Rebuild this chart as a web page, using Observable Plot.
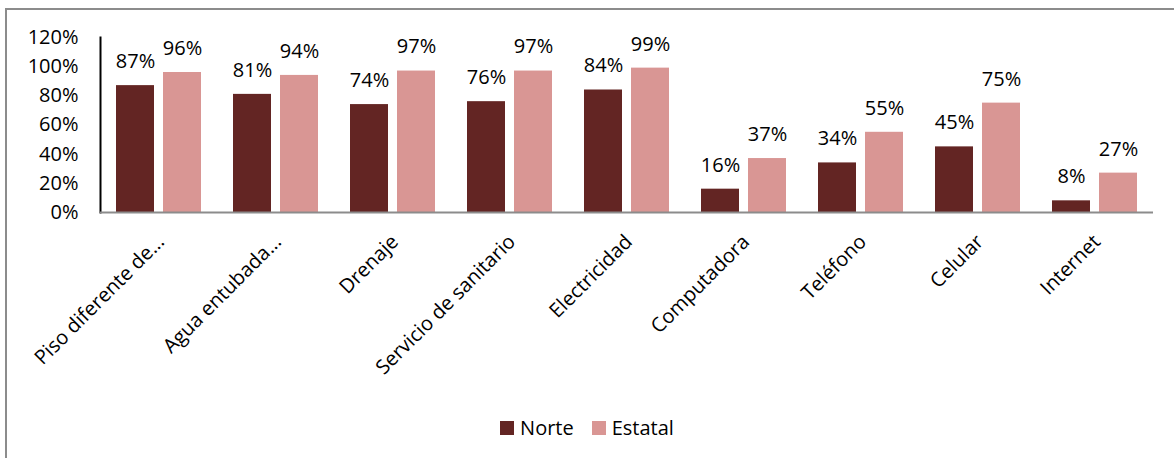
<!DOCTYPE html>
<html><head><meta charset="utf-8">
<script src="https://cdn.jsdelivr.net/npm/d3@7"></script>
<script src="https://cdn.jsdelivr.net/npm/@observablehq/plot@0.6"></script>
<style>
body{margin:0;background:#fff;font-family:"Open Sans",sans-serif;}
#wrap{position:relative;width:1174px;height:458px;overflow:hidden;background:#fff;}
#frame{position:absolute;left:5px;top:8px;width:1200px;height:500px;border-top:2px solid #8c8c8c;border-left:2px solid #8c8c8c;}
#chart{position:absolute;left:0;top:0;}
#chart g[aria-label="frame"]{stroke:#8c8c8c;stroke-width:2px;}
#legend{position:absolute;top:414px;left:0;width:1174px;display:flex;justify-content:center;align-items:center;font-size:20px;color:#000;}
#legend .item{display:flex;align-items:center;margin:0 9px;}
#legend .sw{width:14px;height:14px;margin-right:6px;}
</style></head>
<body>
<div id="wrap"><div id="frame"></div><div id="chart"></div><div id="legend"></div></div>
<script>
const categories = ["Piso diferente de...", "Agua entubada...", "Drenaje", "Servicio de sanitario", "Electricidad", "Computadora", "Teléfono", "Celular", "Internet"];
const series = ["Norte", "Estatal"];
const norte = [87, 81, 74, 76, 84, 16, 34, 45, 8];
const estatal = [96, 94, 97, 97, 99, 37, 55, 75, 27];
const colors = ["#632523", "#D99694"];
const yTicks = [0, 0.2, 0.4, 0.6, 0.8, 1.0, 1.2];

const data = categories.flatMap((c, i) => [
  {cat: c, serie: series[0], v: norte[i] / 100},
  {cat: c, serie: series[1], v: estatal[i] / 100}
]);
const pct = d3.format(".0%");

const chart = Plot.plot({
  width: 1174,
  height: 410,
  marginLeft: 98,
  marginRight: 20,
  marginTop: 37,
  marginBottom: 198,
  style: {fontFamily: "'Open Sans', sans-serif", fontSize: "20px", color: "#000", background: "transparent", overflow: "visible"},
  fx: {domain: categories, padding: 0, label: null, axis: null},
  x: {domain: series, paddingInner: 0.19, paddingOuter: 0.32, axis: null},
  y: {domain: [0, 1.2], ticks: yTicks, tickFormat: pct, tickSize: 0, tickPadding: 22, label: null, line: true},
  color: {domain: series, range: colors},
  marks: [
    Plot.barY(data, {fx: "cat", x: "serie", y: "v", fill: "serie"}),
    Plot.text(data, {fx: "cat", x: "serie", y: "v", text: d => pct(d.v), dy: -24, lineAnchor: "middle", fontSize: 20, fill: "#000"}),
    Plot.ruleY([0], {stroke: "#8c8c8c", strokeWidth: 2}),
    Plot.axisFx({anchor: "bottom", tickRotate: -45, tickSize: 0, tickPadding: 26, dx: 2, label: null, fontSize: 20, fill: "#000"})
  ]
});
document.getElementById("chart").appendChild(chart);

const legend = document.getElementById("legend");
series.forEach((s, i) => {
  const it = document.createElement("div");
  it.className = "item";
  it.innerHTML = `<div class="sw" style="background:${colors[i]}"></div><span>${s}</span>`;
  legend.appendChild(it);
});
</script>
</body></html>
